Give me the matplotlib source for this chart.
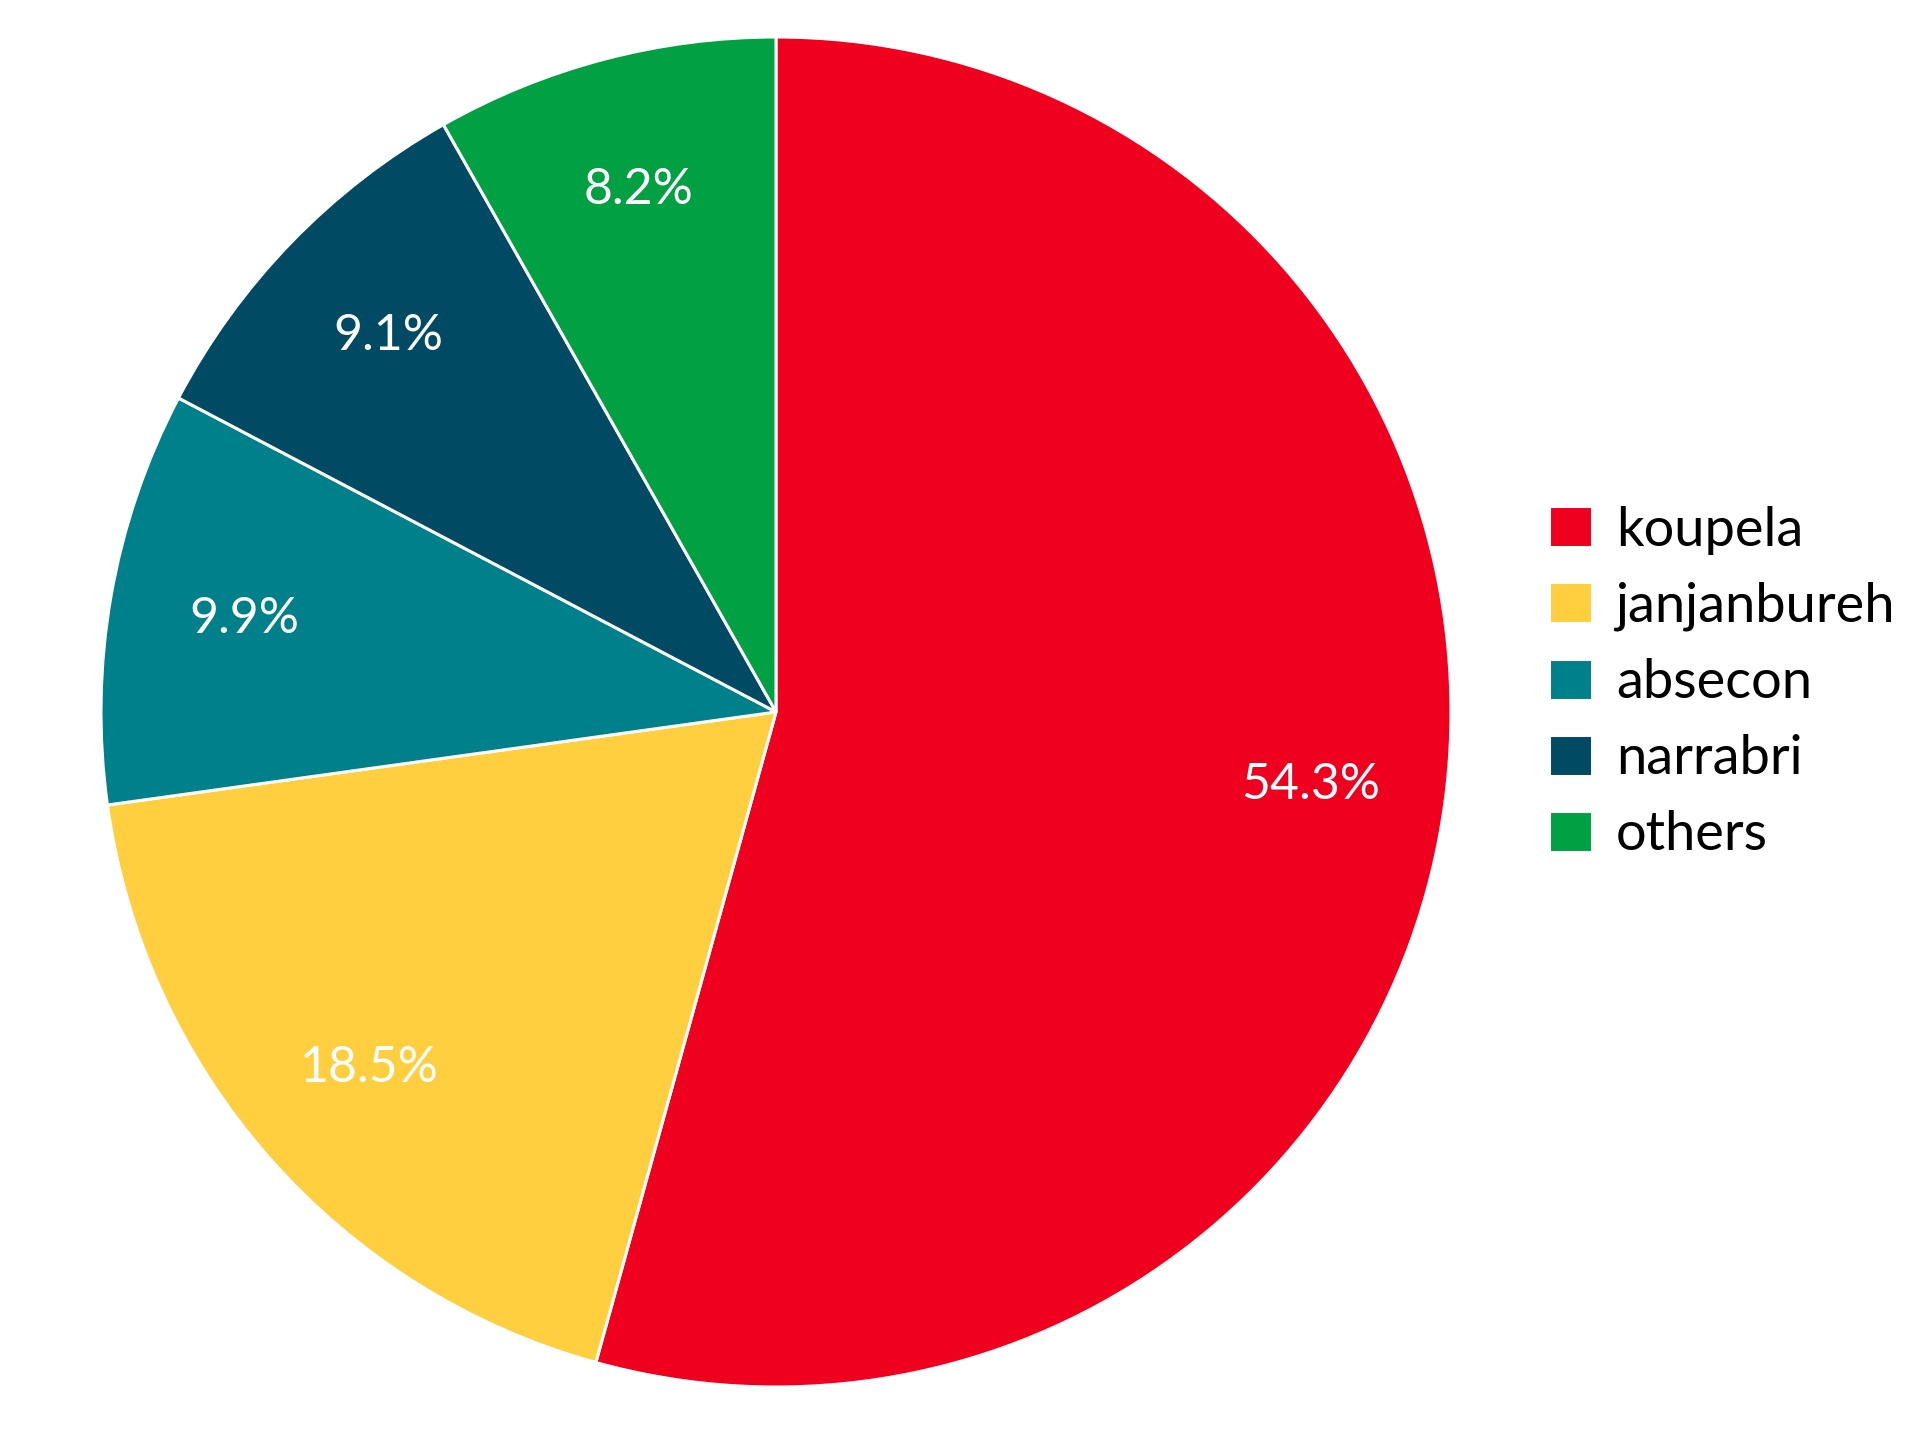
import matplotlib
matplotlib.use("Agg")
import matplotlib.pyplot as plt
from matplotlib import font_manager

names = ["koupela", "janjanbureh", "absecon", "narrabri", "others"]
shares = [54.3, 18.5, 9.9, 9.1, 8.2]
colors = ["#EF001F", "#FFCF40", "#00808A", "#004A63", "#00A043"]

family = "Lato"
available = {f.name for f in font_manager.fontManager.ttflist}
if family not in available:
    family = "Open Sans"
plt.rcParams["font.family"] = [family, "DejaVu Sans"]

fig = plt.figure(figsize=(19.32, 14.46), dpi=100)
cx, cy, r = 776, 712, 675
W, H = 1932, 1446
ax = fig.add_axes([(cx - r) / W, (H - cy - r) / H, 2 * r / W, 2 * r / H])

wedges, _, autotexts = ax.pie(
    shares, colors=colors, startangle=90, counterclock=False,
    autopct="%.1f%%", pctdistance=0.8, radius=1,
    wedgeprops=dict(edgecolor="white", linewidth=2.2),
    textprops=dict(color="white", fontsize=36, fontweight="normal"),
)
ax.set_xlim(-1, 1)
ax.set_ylim(-1, 1)
ax.set_aspect("equal")
ax.axis("off")

fig.legend(wedges, names, loc="center left", bbox_to_anchor=(0.802, 0.528),
           frameon=False, borderpad=0, borderaxespad=0,
           handlelength=0.78, handleheight=0.78, handletextpad=0.45,
           labelspacing=0.5, labelcolor="black",
           prop=dict(family=[family, "DejaVu Sans"], size=39, weight="normal"))

fig.savefig("out.png", dpi=100)
